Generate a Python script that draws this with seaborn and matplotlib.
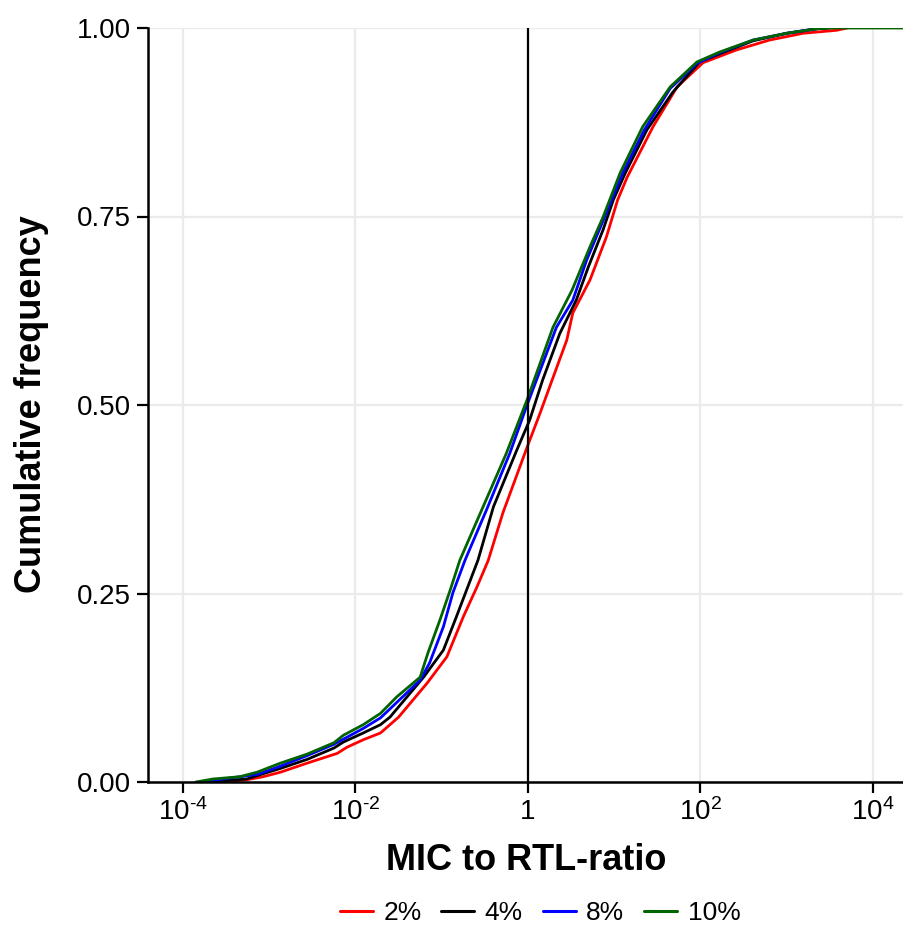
import numpy as np
import pandas as pd
import matplotlib
matplotlib.use("Agg")
import matplotlib.pyplot as plt
import seaborn as sns

# ---- data (log10 of MIC/RTL ratio, cumulative frequency) ----
series_labels = ["2%", "4%", "8%", "10%"]

log_x_2 = [-3.57, -3.26, -3.07, -2.87, -2.56, -2.21, -2.10, -1.91, -1.71, -1.50,
           -1.17, -0.94, -0.75, -0.59, -0.46, -0.29, -0.01, 0.14, 0.28, 0.45,
           0.52, 0.72, 0.91, 1.04, 1.15, 1.45, 1.73, 2.03, 2.42, 2.80, 3.19, 3.58, 3.70]
cum_2 = [0.000, 0.003, 0.007, 0.013, 0.025, 0.038, 0.046, 0.056, 0.065, 0.086,
         0.131, 0.166, 0.219, 0.259, 0.294, 0.357, 0.444, 0.489, 0.533, 0.586,
         0.622, 0.666, 0.723, 0.772, 0.802, 0.869, 0.922, 0.954, 0.971, 0.984, 0.993, 0.997, 1.000]

log_x_4 = [-3.70, -3.26, -3.07, -2.87, -2.56, -2.25, -2.14, -1.91, -1.71, -1.60,
           -1.21, -0.98, -0.83, -0.71, -0.58, -0.40, -0.13, 0.02, 0.17, 0.37,
           0.56, 0.70, 0.87, 0.99, 1.13, 1.38, 1.68, 1.99, 2.25, 2.61, 3.00, 3.35, 3.50]
cum_4 = [0.000, 0.004, 0.011, 0.018, 0.030, 0.045, 0.053, 0.065, 0.076, 0.086,
         0.139, 0.175, 0.219, 0.255, 0.294, 0.365, 0.440, 0.480, 0.533, 0.595,
         0.639, 0.683, 0.732, 0.772, 0.808, 0.865, 0.915, 0.955, 0.967, 0.983, 0.993, 0.999, 1.000]

log_x_8 = [-3.80, -3.14, -2.87, -2.56, -2.25, -1.91, -1.71, -1.25, -1.14, -0.98,
           -0.87, -0.73, -0.48, -0.21, -0.02, 0.33, 0.52, 0.68, 0.91, 1.10,
           1.35, 1.65, 1.96, 2.22, 2.61, 3.00, 3.35, 3.45]
cum_8 = [0.000, 0.010, 0.021, 0.035, 0.050, 0.071, 0.085, 0.135, 0.158, 0.206,
         0.251, 0.294, 0.361, 0.436, 0.497, 0.603, 0.639, 0.692, 0.755, 0.808,
         0.865, 0.920, 0.953, 0.967, 0.984, 0.993, 0.999, 1.000]

log_x_10 = [-3.85, -3.65, -3.34, -3.14, -2.87, -2.56, -2.25, -2.14, -1.91, -1.71,
            -1.52, -1.25, -1.16, -1.02, -0.90, -0.79, -0.52, -0.25, -0.01, 0.29,
            0.51, 0.72, 0.87, 1.07, 1.33, 1.65, 1.96, 2.22, 2.61, 3.00, 3.35, 3.50, 4.40]
cum_10 = [0.000, 0.004, 0.007, 0.013, 0.025, 0.037, 0.052, 0.062, 0.076, 0.091,
          0.113, 0.139, 0.171, 0.215, 0.255, 0.294, 0.365, 0.436, 0.507, 0.603,
          0.652, 0.710, 0.749, 0.808, 0.869, 0.922, 0.955, 0.968, 0.984, 0.993, 0.999, 1.000, 1.000]

x_ticks = [1e-4, 1e-2, 1, 1e2, 1e4]
x_tick_labels = [r"$10^{\text{-}4}$", r"$10^{\text{-}2}$", "1", r"$10^{2}$", r"$10^{4}$"]
y_ticks = [0.00, 0.25, 0.50, 0.75, 1.00]
y_tick_labels = ["0.00", "0.25", "0.50", "0.75", "1.00"]
colors = ["#FF0000", "#000000", "#0000FF", "#006400"]

frames = []
for lab, lx, cy in zip(series_labels,
                       [log_x_2, log_x_4, log_x_8, log_x_10],
                       [cum_2, cum_4, cum_8, cum_10]):
    frames.append(pd.DataFrame({"ratio": np.power(10.0, lx), "cum": cy, "group": lab}))
df = pd.concat(frames, ignore_index=True)

# ---- styling ----
sns.set_theme(style="white")
plt.rcParams["font.family"] = ["Liberation Sans", "DejaVu Sans"]
plt.rcParams["text.color"] = "black"
plt.rcParams["mathtext.fontset"] = "custom"
plt.rcParams["mathtext.rm"] = "Liberation Sans"
plt.rcParams["mathtext.it"] = "Liberation Sans:italic"
plt.rcParams["mathtext.bf"] = "Liberation Sans:bold"

fig = plt.figure(figsize=(9.04, 9.26), dpi=100)
ax = fig.add_axes([148 / 904, (926 - 782) / 926, (904 - 148) / 904, (782 - 28) / 926])

ax.set_xscale("log")
ax.set_xlim(10 ** -4.405, 10 ** 4.36)
ax.set_ylim(0, 1)

# grid
for t in x_ticks:
    ax.axvline(t, color="#EBEBEB", lw=1.6, zorder=0)
for t in y_ticks:
    ax.axhline(t, color="#EBEBEB", lw=1.6, zorder=0)

sns.lineplot(data=df, x="ratio", y="cum", hue="group", hue_order=series_labels,
             palette=colors, estimator=None, sort=False, lw=2.0, ax=ax, zorder=3)

ax.axvline(1, color="black", lw=1.6, zorder=4)

ax.set_xticks(x_ticks)
ax.set_xticklabels(x_tick_labels)
ax.xaxis.set_minor_locator(matplotlib.ticker.NullLocator())
ax.set_yticks(y_ticks)
ax.set_yticklabels(y_tick_labels)
ax.tick_params(axis="both", which="major", length=8, width=1.6, color="black",
               labelsize=20, labelcolor="black", direction="out",
               bottom=True, left=True)
ax.tick_params(axis="y", pad=4)
ax.tick_params(axis="x", pad=4)

for s in ["top", "right"]:
    ax.spines[s].set_visible(False)
for s in ["left", "bottom"]:
    ax.spines[s].set_color("black")
    ax.spines[s].set_linewidth(1.8)
    ax.spines[s].set_zorder(5)

ax.set_xlabel("MIC to RTL-ratio", fontsize=26, fontweight="bold", color="black", va="center")
ax.set_ylabel("Cumulative frequency", fontsize=26, fontweight="bold", color="black", va="center")
ax.xaxis.set_label_coords((526 - 148) / 756, (782 - 861) / 754)
ax.yaxis.set_label_coords((32 - 148) / 756, (782 - 404) / 754)

sns.move_legend(ax, "center", bbox_to_anchor=(540 / 904, 1 - 913 / 926),
                bbox_transform=fig.transFigure, ncol=4, frameon=False, title=None,
                fontsize=19, handlelength=1.25, columnspacing=0.75, handletextpad=0.4)
leg = ax.get_legend()
for line in leg.get_lines():
    line.set_linewidth(2.2)
for txt in leg.get_texts():
    txt.set_color("black")

fig.savefig("out.png", dpi=100)
